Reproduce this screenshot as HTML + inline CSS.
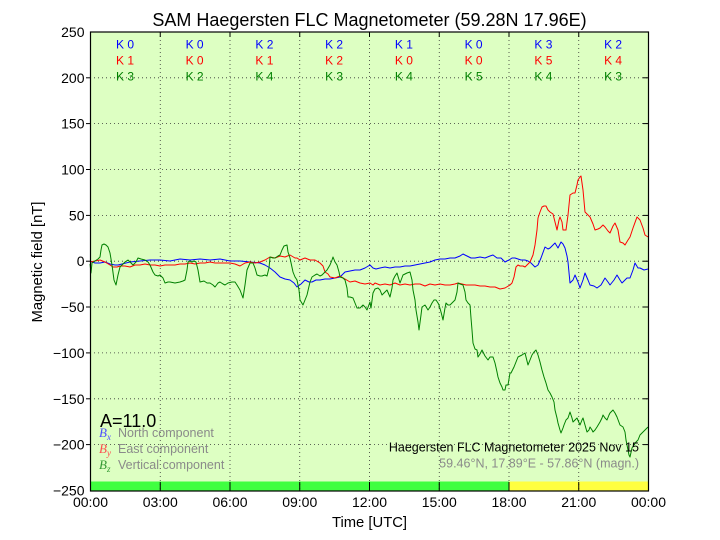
<!DOCTYPE html>
<html><head><meta charset="utf-8"><style>
html,body{margin:0;padding:0;background:#fff;}
svg{display:block;}
text{font-family:"Liberation Sans",sans-serif;}
text.serif{font-family:"Liberation Serif",serif;font-style:italic;}
</style></head><body>
<svg width="720" height="540" viewBox="0 0 720 540" xmlns="http://www.w3.org/2000/svg">
<rect x="0" y="0" width="720" height="540" fill="#fff"/>
<rect x="90.5" y="32" width="558" height="459" fill="#ddffc2"/>
<rect x="90.5" y="481.5" width="418.5" height="9.5" fill="#40ff40"/>
<rect x="509" y="481.5" width="139.5" height="9.5" fill="#ffff40"/>
<g stroke="#333" stroke-width="0.8" stroke-dasharray="1,3" fill="none">
<line x1="160.25" y1="32" x2="160.25" y2="491"/>
<line x1="230" y1="32" x2="230" y2="491"/>
<line x1="299.75" y1="32" x2="299.75" y2="491"/>
<line x1="369.5" y1="32" x2="369.5" y2="491"/>
<line x1="439.25" y1="32" x2="439.25" y2="491"/>
<line x1="509" y1="32" x2="509" y2="491"/>
<line x1="578.75" y1="32" x2="578.75" y2="491"/>
<line x1="90" y1="77.8" x2="648" y2="77.8"/>
<line x1="90" y1="123.6" x2="648" y2="123.6"/>
<line x1="90" y1="169.5" x2="648" y2="169.5"/>
<line x1="90" y1="215.4" x2="648" y2="215.4"/>
<line x1="90" y1="261.2" x2="648" y2="261.2"/>
<line x1="90" y1="307" x2="648" y2="307"/>
<line x1="90" y1="352.9" x2="648" y2="352.9"/>
<line x1="90" y1="398.8" x2="648" y2="398.8"/>
<line x1="90" y1="444.6" x2="648" y2="444.6"/>
</g>
<g fill="none" stroke-width="1" stroke-linejoin="round">
<polyline stroke="#0000ff" points="90,261 95,263 100,263 105,262 110,264 115,265 118,265 122,264 130,262 140,261 150,260 160,260 170,261 180,259 190,260 200,259 210,260 220,259 230,261 240,261 250,262 260,263 265,265 270,268 275,272 280,277 285,279 290,280 294,283 297,287 301,284 305,280 309,282 312,282 316,280 320,280 325,279 330,279 335,278 340,277 345,272 350,271 355,270 360,270 365,268 370,265 373,268 376,269 380,268 385,267 390,268 395,267 400,267 405,266 410,266 415,265 420,264 425,263 430,262 435,260 440,259 445,259 450,258 455,258 460,256 463,254 467,256 471,258 475,258 480,257 485,258 490,256 493,255 497,258 501,258 505,262 509,260 512,258 515,258 518,259 521,260 525,260 528,261 531,263 535,267 538,265 541,258 545,247 548,249 550,248 553,245 555,243 558,248 561,242 563,244 565,248 567,256 568,262 570,283 573,280 575,275 578,282 580,288 583,280 585,273 588,280 590,285 594,286 597,288 601,285 605,278 608,282 610,285 614,280 617,275 620,280 622,283 625,280 627,278 630,278 633,270 635,263 638,268 640,268 644,270 648,269"/>
<polyline stroke="#ff0000" points="90,262 95,261 100,260 105,262 110,265 113,267 117,267 120,266 125,266 130,267 135,265 140,265 145,264 150,265 155,265 160,266 165,265 170,265 175,265 180,264 185,264 190,263 195,264 200,263 205,263 210,262 215,263 220,263 225,263 230,263 235,264 240,266 245,263 250,262 255,263 260,262 265,260 270,257 275,258 280,256 285,257 290,255 295,258 297,258 300,260 305,258 310,260 315,260 320,263 323,266 325,272 328,274 330,277 335,278 340,276 345,279 350,282 355,281 360,283 365,284 370,283 373,285 375,283 380,285 385,284 390,285 395,283 400,285 405,284 410,285 415,284 420,284 425,286 430,284 435,285 440,284 445,285 450,285 455,284 458,283 462,284 466,285 470,285 475,285 480,286 485,286 490,287 495,287 500,289 505,288 510,285 512,283 514,277 516,267 518,265 520,266 523,266 525,267 528,264 530,262 533,255 535,245 537,230 538,218 540,212 542,207 544,206 546,206 548,210 550,212 553,214 555,222 557,230 559,220 560,217 562,222 563,230 566,230 568,215 570,195 573,193 575,193 577,185 578,180 580,177 581,176 583,190 585,212 588,215 590,217 593,224 595,230 598,229 600,228 603,225 605,227 608,231 610,233 613,226 615,223 618,230 620,242 623,243 625,245 628,240 630,237 633,228 637,217 640,220 643,228 645,235 648,237"/>
<polyline stroke="#008000" points="90,264 91,273 92,263 95,261 98,259 100,257 101,250 102,245 104,244 106,245 108,247 110,253 112,265 114,280 116,285 118,275 120,267 123,264 125,262 128,260 131,263 133,265 136,262 138,258 141,259 145,260 148,262 150,265 153,272 155,275 158,276 160,275 163,278 165,283 168,282 170,282 175,283 180,282 183,281 185,280 187,270 188,262 190,261 192,262 194,261 196,262 198,270 200,282 204,281 207,283 210,283 213,285 215,287 218,283 220,282 223,284 225,285 228,283 232,282 235,282 237,285 240,290 243,298 245,285 247,270 250,263 253,263 255,268 257,275 260,276 262,276 265,275 267,276 269,268 270,257 273,258 275,258 278,256 280,255 282,250 284,246 287,245 288,252 290,258 293,272 295,277 297,280 299,290 300,300 303,305 305,300 307,295 310,282 312,277 315,275 317,274 320,276 322,275 325,272 327,270 330,265 332,260 333,257 335,262 337,265 339,272 340,277 343,278 345,280 347,288 348,297 350,297 353,298 355,303 357,308 360,308 363,305 365,307 367,310 370,302 371,308 373,293 375,289 378,288 380,290 382,295 385,292 387,290 390,297 392,288 393,280 395,276 397,273 400,283 403,275 405,274 407,273 410,272 412,280 413,290 415,300 416,310 418,322 419,330 421,315 422,307 425,305 428,310 430,307 432,303 434,300 436,300 438,303 439,305 441,312 443,320 445,308 446,303 448,305 450,305 453,302 455,300 457,292 458,283 460,284 463,285 465,292 466,300 468,303 470,305 471,318 472,330 473,343 475,349 477,350 478,357 480,354 482,350 485,356 488,360 490,357 493,357 495,363 497,372 498,377 500,383 502,387 503,390 505,390 506,385 508,385 510,373 511,373 514,367 516,362 518,357 520,356 522,355 525,353 528,365 530,360 532,355 534,352 536,350 538,355 540,362 542,370 544,377 546,383 548,390 550,393 552,397 554,402 555,410 557,418 558,423 560,430 561,433 563,428 564,425 566,420 568,418 570,412 572,418 573,422 575,420 577,418 580,425 582,420 583,418 585,425 587,432 589,430 590,427 592,430 593,432 595,430 597,427 600,422 602,418 603,415 605,418 607,420 609,415 610,413 613,410 615,413 617,417 620,425 623,427 625,432 626,440 628,450 629,455 630,457 632,448 634,445 636,442 638,440 640,435 643,432 645,430 648,427"/>
</g>
<!-- ticks -->
<g stroke="#000" stroke-width="1">
<line x1="160.25" y1="491" x2="160.25" y2="482"/><line x1="230" y1="491" x2="230" y2="482"/><line x1="299.75" y1="491" x2="299.75" y2="482"/><line x1="369.5" y1="491" x2="369.5" y2="482"/><line x1="439.25" y1="491" x2="439.25" y2="482"/><line x1="509" y1="491" x2="509" y2="482"/><line x1="578.75" y1="491" x2="578.75" y2="482"/>
<line x1="160.25" y1="32" x2="160.25" y2="37"/><line x1="230" y1="32" x2="230" y2="37"/><line x1="299.75" y1="32" x2="299.75" y2="37"/><line x1="369.5" y1="32" x2="369.5" y2="37"/><line x1="439.25" y1="32" x2="439.25" y2="37"/><line x1="509" y1="32" x2="509" y2="37"/><line x1="578.75" y1="32" x2="578.75" y2="37"/>
<line x1="86" y1="77.8" x2="90" y2="77.8"/><line x1="86" y1="123.6" x2="90" y2="123.6"/><line x1="86" y1="169.5" x2="90" y2="169.5"/><line x1="86" y1="215.4" x2="90" y2="215.4"/><line x1="86" y1="261.2" x2="90" y2="261.2"/><line x1="86" y1="307" x2="90" y2="307"/><line x1="86" y1="352.9" x2="90" y2="352.9"/><line x1="86" y1="398.8" x2="90" y2="398.8"/><line x1="86" y1="444.6" x2="90" y2="444.6"/>
<line x1="643" y1="77.8" x2="648" y2="77.8"/><line x1="643" y1="123.6" x2="648" y2="123.6"/><line x1="643" y1="169.5" x2="648" y2="169.5"/><line x1="643" y1="215.4" x2="648" y2="215.4"/><line x1="643" y1="261.2" x2="648" y2="261.2"/><line x1="643" y1="307" x2="648" y2="307"/><line x1="643" y1="352.9" x2="648" y2="352.9"/><line x1="643" y1="398.8" x2="648" y2="398.8"/><line x1="643" y1="444.6" x2="648" y2="444.6"/>
</g>
<rect x="90.5" y="32" width="558" height="459" fill="none" stroke="#000" stroke-width="1.2"/>
<!-- title -->
<text x="369.5" y="26" font-size="18" text-anchor="middle" fill="#000">SAM Haegersten FLC Magnetometer (59.28N 17.96E)</text>
<!-- K indices -->
<g font-size="12" text-anchor="middle">
<g fill="#0000ff">
<text x="125" y="48.7">K 0</text><text x="194.6" y="48.7">K 0</text><text x="264.4" y="48.7">K 2</text><text x="334.1" y="48.7">K 2</text><text x="403.9" y="48.7">K 1</text><text x="473.6" y="48.7">K 0</text><text x="543.4" y="48.7">K 3</text><text x="613.1" y="48.7">K 2</text>
</g>
<g fill="#ff0000">
<text x="125" y="64.7">K 1</text><text x="194.6" y="64.7">K 0</text><text x="264.4" y="64.7">K 1</text><text x="334.1" y="64.7">K 2</text><text x="403.9" y="64.7">K 0</text><text x="473.6" y="64.7">K 0</text><text x="543.4" y="64.7">K 5</text><text x="613.1" y="64.7">K 4</text>
</g>
<g fill="#008000">
<text x="125" y="80.7">K 3</text><text x="194.6" y="80.7">K 2</text><text x="264.4" y="80.7">K 4</text><text x="334.1" y="80.7">K 3</text><text x="403.9" y="80.7">K 4</text><text x="473.6" y="80.7">K 5</text><text x="543.4" y="80.7">K 4</text><text x="613.1" y="80.7">K 3</text>
</g>
</g>
<!-- y tick labels -->
<g font-size="14" text-anchor="end" fill="#000">
<text x="84.5" y="37">250</text>
<text x="84.5" y="82.8">200</text>
<text x="84.5" y="128.6">150</text>
<text x="84.5" y="174.5">100</text>
<text x="84.5" y="220.4">50</text>
<text x="84.5" y="266.2">0</text>
<text x="84.5" y="312">−50</text>
<text x="84.5" y="357.9">−100</text>
<text x="84.5" y="403.8">−150</text>
<text x="84.5" y="449.6">−200</text>
<text x="84.5" y="495.5">−250</text>
</g>
<!-- x tick labels -->
<g font-size="14" text-anchor="middle" fill="#000">
<text x="90.5" y="507">00:00</text>
<text x="160.25" y="507">03:00</text>
<text x="230" y="507">06:00</text>
<text x="299.75" y="507">09:00</text>
<text x="369.5" y="507">12:00</text>
<text x="439.25" y="507">15:00</text>
<text x="509" y="507">18:00</text>
<text x="578.75" y="507">21:00</text>
<text x="648.5" y="507">00:00</text>
</g>
<text x="369.5" y="527" font-size="14.8" text-anchor="middle" fill="#000">Time [UTC]</text>
<text transform="translate(42,262) rotate(-90)" font-size="14.8" text-anchor="middle" fill="#000">Magnetic field [nT]</text>
<!-- A index and legend -->
<text x="100" y="427" font-size="18" fill="#000">A=11.0</text>
<g font-size="12.5" fill="#8a8a8a">
<text x="118" y="437">North component</text>
<text x="118" y="453">East component</text>
<text x="118" y="469">Vertical component</text>
</g>
<text class="serif" x="99" y="437" font-size="13" fill="#4d4dff">B<tspan font-size="9" dy="3">x</tspan></text>
<text class="serif" x="99" y="453" font-size="13" fill="#ff4d4d">B<tspan font-size="9" dy="3">y</tspan></text>
<text class="serif" x="99" y="469" font-size="13" fill="#339933">B<tspan font-size="9" dy="3">z</tspan></text>
<text x="639" y="451.7" font-size="12.5" text-anchor="end" fill="#000">Haegersten FLC Magnetometer 2025 Nov 15</text>
<text x="639" y="467.7" font-size="12.5" text-anchor="end" fill="#8a8a8a">59.46°N, 17.89°E - 57.86°N (magn.)</text>
</svg>
</body></html>
